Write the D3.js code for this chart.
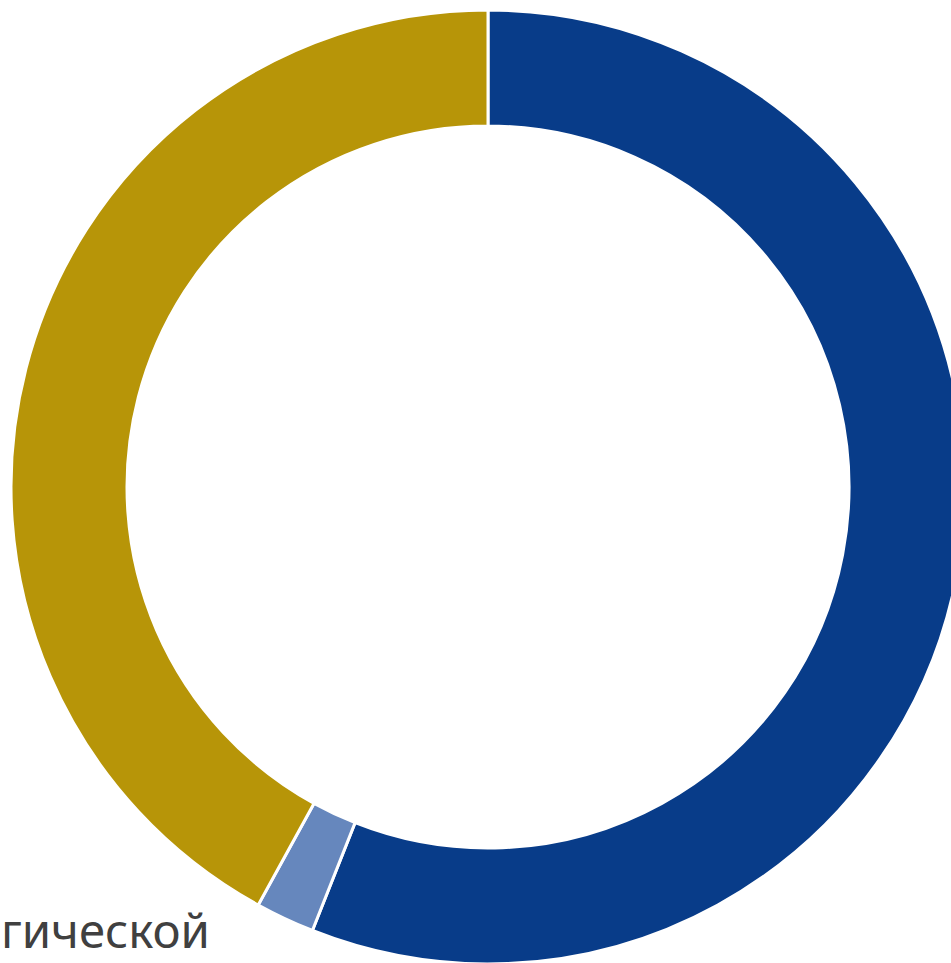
<!DOCTYPE html>
<html>
<head>
<meta charset="utf-8">
<script src="https://cdn.jsdelivr.net/npm/d3@7"></script>
<style>
  html, body { margin: 0; padding: 0; background: #fff; overflow: hidden; }
  svg { display: block; }
</style>
</head>
<body>
<svg id="area" width="951" height="963"></svg>
<script>
// shares of the ring, clockwise from top
const categories = ["A", "B", "C"];
const values = [56, 2, 42];
const colors = ["#083c89", "#6687bd", "#b79508"];
const labelText = "гической";

const width = 951;
const height = 963;
const cx = 488, cy = 487;
const outerR = 477, innerR = 361;

const svg = d3.select("#area");
const chart = svg.append("g")
  .attr("class", "chart")
  .attr("transform", "translate(" + cx + "," + cy + ")");

const pie = d3.pie().sort(null).value(d => d.value);
const arc = d3.arc().innerRadius(innerR).outerRadius(outerR);

const data = categories.map((c, i) => ({ name: c, value: values[i], color: colors[i] }));

chart.selectAll("path")
  .data(pie(data))
  .join("path")
  .attr("d", arc)
  .attr("fill", d => d.data.color)
  .attr("stroke", "#fff")
  .attr("stroke-width", 3);

// clipped category label at bottom left
svg.append("text")
  .attr("x", 1)
  .attr("y", 948)
  .attr("font-family", "'Noto Sans', 'DejaVu Sans', sans-serif")
  .attr("font-size", 48)
  .attr("textLength", 209)
  .attr("lengthAdjust", "spacingAndGlyphs")
  .attr("fill", "#404040")
  .text(labelText);
</script>
</body>
</html>
